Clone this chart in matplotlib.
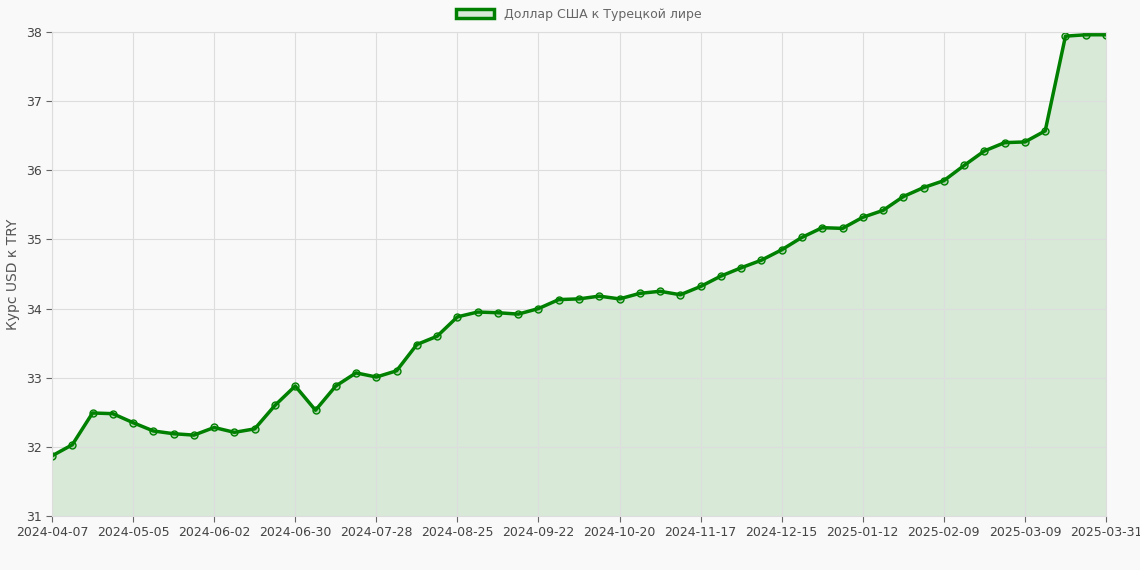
import numpy as np
import pandas as pd
import matplotlib.pyplot as plt
from matplotlib.patches import Patch

dates = [d.strftime('%Y-%m-%d') for d in pd.date_range('2024-04-07', periods=52, freq='7D')]
dates.append('2025-03-31')
rates = [31.87, 32.03, 32.49, 32.48, 32.35, 32.23, 32.19, 32.17, 32.28, 32.21,
         32.26, 32.60, 32.88, 32.53, 32.88, 33.07, 33.01, 33.10, 33.48, 33.60,
         33.88, 33.95, 33.94, 33.92, 34.00, 34.13, 34.14, 34.18, 34.14, 34.22,
         34.25, 34.20, 34.32, 34.47, 34.59, 34.70, 34.85, 35.03, 35.17, 35.16,
         35.32, 35.42, 35.62, 35.75, 35.85, 36.07, 36.28, 36.40, 36.41, 36.57,
         37.94, 37.96, 37.96]

fig = plt.figure(figsize=(11.4, 5.7), dpi=100, facecolor='#f9f9f9')
ax = fig.add_axes([52/1140, 54/570, 1054/1140, 484/570])
ax.set_facecolor('#f9f9f9')
x = np.arange(len(rates))
ax.fill_between(x, rates, 31, color='#008000', alpha=0.13, lw=0)
ax.plot(x, rates, color='#008000', lw=2.5, marker='o', ms=5,
        mfc=(0, 0.5, 0, 0.2), mec='#008000', mew=1)

ax.set_xlim(0, len(rates) - 1)
ax.set_ylim(31, 38)
ticks = list(range(0, len(rates), 4))
ax.set_xticks(ticks)
ax.set_xticklabels([dates[i] for i in ticks])
ax.set_yticks(range(31, 39))
ax.grid(True, color='#dddddd', lw=0.8)
for s in ax.spines.values():
    s.set_color('#dddddd')
ax.tick_params(colors='#666666', labelsize=9, length=4)
for t in ax.get_xticklabels() + ax.get_yticklabels():
    t.set_color('#444444')
ax.set_ylabel('Курс USD к TRY', color='#555555', fontsize=10)

leg = ax.legend(handles=[Patch(facecolor=(0, 0.5, 0, 0.13), edgecolor='#008000', lw=2.5,
                               label='Доллар США к Турецкой лире')],
                loc='lower center', bbox_to_anchor=(0.5, 1.0), frameon=False,
                fontsize=9, handlelength=3)
for t in leg.get_texts():
    t.set_color('#666666')

fig.savefig('out.png', dpi=100, facecolor=fig.get_facecolor())
